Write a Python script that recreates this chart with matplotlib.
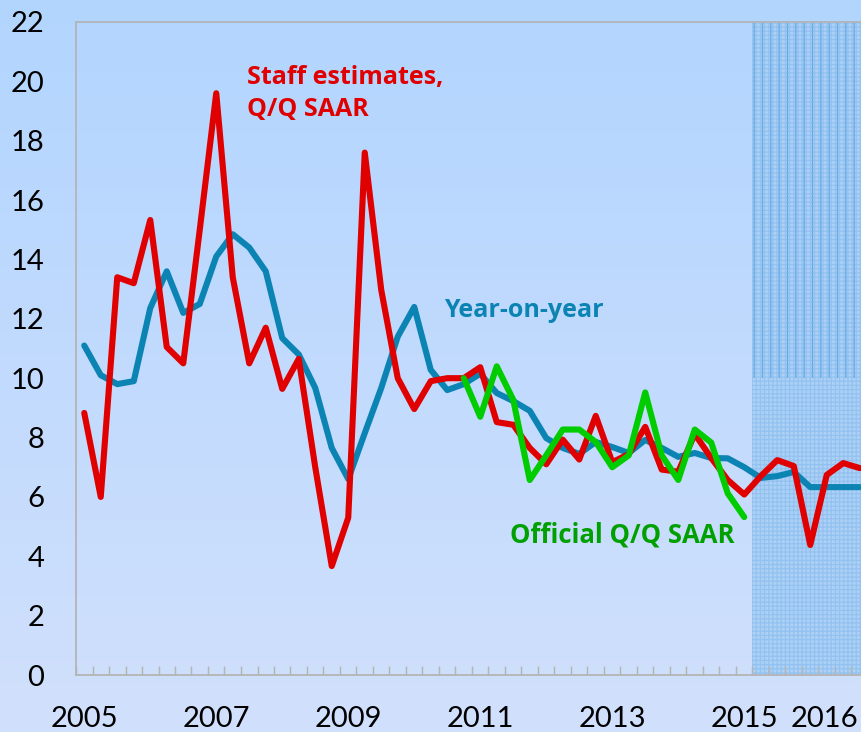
import numpy as np
import matplotlib
matplotlib.use("Agg")
import matplotlib.pyplot as plt
from matplotlib.patches import Rectangle

# ---------------- data ----------------
quarters = [f"{y}Q{q}" for y in range(2005, 2017) for q in range(1, 5)]

yoy = [11.1, 10.1, 9.8, 9.9, 12.36, 13.6, 12.2, 12.5, 14.1, 14.85, 14.4, 13.6,
       11.35, 10.8, 9.67, 7.65, 6.6, 8.15, 9.67, 11.4, 12.4, 10.28, 9.6, 9.8,
       10.15, 9.5, 9.23, 8.9, 7.98, 7.65, 7.45, 7.85, 7.68, 7.48, 7.92, 7.65,
       7.35, 7.48, 7.31, 7.3, 7.0, 6.64, 6.7, 6.84, 6.33, 6.33, 6.33, 6.33]

staff = [8.83, 6.0, 13.4, 13.2, 15.33, 11.05, 10.5, 15.0, 19.6, 13.4, 10.5, 11.7,
         9.64, 10.65, 7.0, 3.67, 5.3, 17.6, 12.97, 10.0, 8.96, 9.9, 10.0, 10.0,
         10.37, 8.52, 8.43, 7.65, 7.1, 7.93, 7.26, 8.73, 7.17, 7.44, 8.36, 6.92,
         6.85, 8.12, 7.31, 6.57, 6.08, 6.7, 7.24, 7.04, 4.38, 6.74, 7.14, 6.97]

official_start = "2010Q4"
official = [10.0, 8.7, 10.4, 9.27, 6.57, 7.4, 8.27, 8.27, 7.85, 7.0, 7.4, 9.52,
            7.4, 6.57, 8.27, 7.83, 6.12, 5.32]

forecast_start = "2015Q2"
forecast_split = 10

year_labels = ["2005", "2007", "2009", "2011", "2013", "2015", "2016"]
year_label_pos = [0, 8, 16, 24, 32, 40, 44.85]
yticks = list(range(0, 23, 2))

# ---------------- figure ----------------
W, H = 861, 732
fig = plt.figure(figsize=(W / 100, H / 100), dpi=100)

# background vertical gradient
bg = fig.add_axes([0, 0, 1, 1], zorder=-10)
top = np.array([178, 213, 255]) / 255
bot = np.array([209, 224, 252]) / 255
t = np.linspace(0, 1, 256)[:, None]
grad = top[None, :] * (1 - t) + bot[None, :] * t
bg.imshow(grad[:, None, :], aspect="auto", extent=[0, 1, 0, 1])
bg.set_axis_off()

left_px, right_px, top_px, bottom_px = 76, 868, 22, 675
ax = fig.add_axes([left_px / W, (H - bottom_px) / H,
                   (right_px - left_px) / W, (bottom_px - top_px) / H])
ax.patch.set_alpha(0)

x = np.arange(len(quarters))
n = len(quarters)
ax.set_xlim(-0.5, n - 0.5)
ax.set_ylim(0, 22)

# forecast shading
plt.rcParams["hatch.linewidth"] = 0.9
fs = quarters.index(forecast_start) - 0.5
ax.add_patch(Rectangle((fs, 0), n - 0.5 - fs, forecast_split,
                       facecolor="#acd0f6", edgecolor="#93c2f0", hatch="++++",
                       linewidth=0, zorder=1))
ax.add_patch(Rectangle((fs, forecast_split), n - 0.5 - fs, 22 - forecast_split,
                       facecolor="#acd0f6", edgecolor="#93c2f0", hatch="++++",
                       linewidth=0, zorder=1))
ax.add_patch(Rectangle((fs, forecast_split), n - 0.5 - fs, 22 - forecast_split,
                       facecolor="none", edgecolor="#64aae6", hatch="||",
                       linewidth=0, zorder=1.1))

lw = 4.4
ax.plot(x, yoy, color="#0b84b4", lw=lw, solid_joinstyle="round",
        solid_capstyle="round", zorder=3)
ax.plot(x, staff, color="#e00000", lw=lw, solid_joinstyle="round",
        solid_capstyle="round", zorder=4)
o0 = quarters.index(official_start)
ax.plot(x[o0:o0 + len(official)], official, color="#00cc00", lw=lw,
        solid_joinstyle="round", solid_capstyle="round", zorder=5)

# spines
for s in ["left", "top", "bottom"]:
    ax.spines[s].set_color("#b4b4b4")
    ax.spines[s].set_linewidth(1.3)
ax.spines["right"].set_visible(False)

tick_font = ["Lato", "DejaVu Sans"]
ax.set_yticks(yticks)
ax.set_yticklabels([str(v) for v in yticks], fontfamily=tick_font, fontsize=21)
ax.tick_params(axis="y", length=0, pad=23)

ax.set_xticks(year_label_pos)
ax.set_xticklabels(year_labels, fontfamily=tick_font, fontsize=21)
ax.tick_params(axis="x", which="major", length=0, pad=22)
ax.set_xticks(np.arange(-0.5, n, 1), minor=True)
ax.tick_params(axis="x", which="minor", direction="in", length=6.5,
               width=1.0, color="#b4b4b4")

lab_font = ["Open Sans", "DejaVu Sans"]
ax.text(9.85, 19.91, "Staff estimates,", color="#e00000", fontsize=18,
        fontweight="bold", fontfamily=lab_font, ha="left", va="baseline", zorder=6)
ax.text(9.85, 18.83, "Q/Q SAAR", color="#e00000", fontsize=18,
        fontweight="bold", fontfamily=lab_font, ha="left", va="baseline", zorder=6)
ax.text(21.8, 12.06, "Year-on-year", color="#0b84b4", fontsize=18,
        fontweight="bold", fontfamily=lab_font, ha="left", va="baseline", zorder=6)
ax.text(25.8, 4.45, "Official Q/Q SAAR", color="#00a000", fontsize=18.5,
        fontweight="bold", fontfamily=lab_font, ha="left", va="baseline", zorder=6)

fig.savefig("out.png", dpi=100)
